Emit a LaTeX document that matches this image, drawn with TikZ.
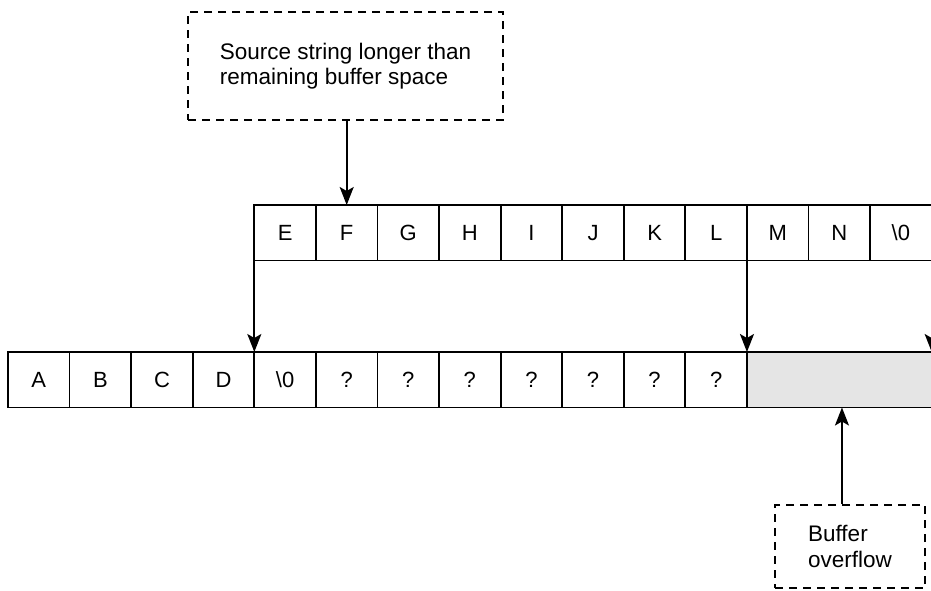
\documentclass[tikz,border=0pt]{standalone}
\usepackage{fontspec}
\setmainfont{Liberation Sans}
\usetikzlibrary{arrows.meta}
\newcommand\nulch{\textbackslash 0}
\begin{document}
\begin{tikzpicture}[x=1pt,y=-1pt,
  cell/.style={draw, line width=1.8pt, minimum width=61.58pt, minimum height=55.5pt,
    inner sep=0pt, outer sep=0pt, font=\fontsize{22}{26}\selectfont, anchor=north west},
  note/.style={draw, line width=2pt, dash pattern=on 8pt off 6pt, inner sep=0pt,
    align=left, font=\fontsize{22.5}{25.5}\selectfont},
  arr/.style={line width=1.8pt, -{Stealth[length=18pt,width=14pt,inset=4pt]}}]
\useasboundingbox (0,0) rectangle (931,590);
\clip (0,0) rectangle (931,590);
% bottom row (buffer)
\foreach \i/\lbl in {1/A,2/B,3/C,4/D,5/\nulch,6/?,7/?,8/?,9/?,10/?,11/?,12/?}
  \node[cell] (b\i) at ({8+(\i-1)*61.58},352) {\lbl};
\node[cell, fill=gray!20, minimum width=190pt] (ovf) at (b12.north east) {};
% top row (source string)
\foreach \i/\lbl in {1/E,2/F,3/G,4/H,5/I,6/J,7/K,8/L,9/M,10/N,11/\nulch}
  \node[cell] (t\i) at ({8+(\i+3)*61.58},205) {\lbl};
% notes
\node[note, minimum width=315pt, minimum height=108pt] (src) at (345.5,66)
  {Source string longer than\\remaining buffer space};
\node[note, minimum width=150pt, minimum height=83pt] (bo) at (850,546.5)
  {Buffer\\overflow};
% connectors
\draw[arr] (t2.north |- src.south) -- (t2.north);
\draw[arr] (t1.south west) -- (t1.south west |- b5.north);
\draw[arr] (t8.south east) -- (t8.south east |- ovf.north);
\draw[arr] (t11.south east) -- (t11.south east |- ovf.north);
\draw[arr] (ovf.south |- bo.north) -- (ovf.south);
\end{tikzpicture}
\end{document}
